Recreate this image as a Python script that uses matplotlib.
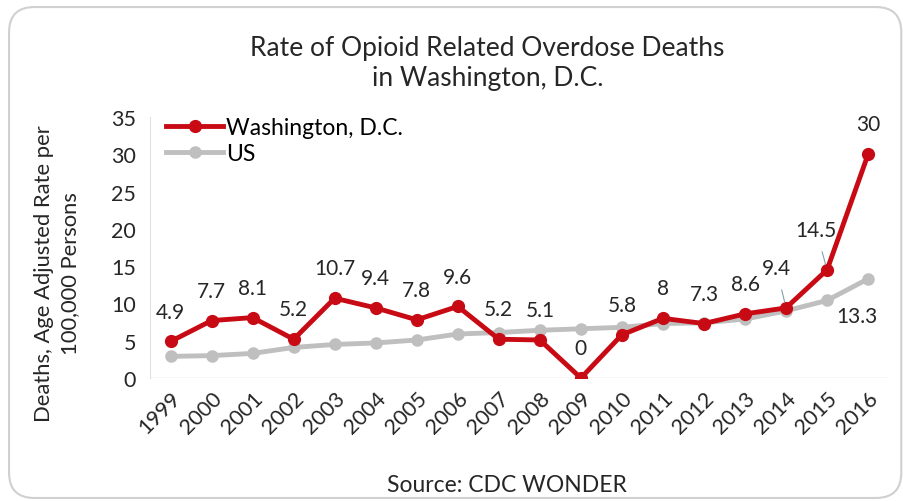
import matplotlib
matplotlib.use('Agg')

import matplotlib.pyplot as plt
from matplotlib.patches import FancyBboxPatch

years = [str(y) for y in range(1999, 2017)]
dc_rate = [4.9, 7.7, 8.1, 5.2, 10.7, 9.4, 7.8, 9.6, 5.2, 5.1, 0, 5.8, 8, 7.3, 8.6, 9.4, 14.5, 30]
us_rate = [2.9, 3.0, 3.3, 4.1, 4.5, 4.7, 5.1, 5.9, 6.1, 6.4, 6.6, 6.8, 7.3, 7.4, 7.9, 9.0, 10.4, 13.3]
dc_labels = ["4.9", "7.7", "8.1", "5.2", "10.7", "9.4", "7.8", "9.6", "5.2", "5.1",
             "0", "5.8", "8", "7.3", "8.6", "9.4", "14.5", "30"]

plt.rcParams['font.family'] = ['Lato', 'DejaVu Sans']

red = '#C80A14'
grey = '#BFBFBF'
txt = '#262626'
fs = 15

fig = plt.figure(figsize=(9.04, 5.02), dpi=100)
# rounded chart-area border
frame = FancyBboxPatch((0.01, 0.006), 0.987, 0.978, boxstyle="round,pad=0,rounding_size=0.028",
                       transform=fig.transFigure, facecolor='none', edgecolor='#D0D0D0',
                       linewidth=1.5, mutation_aspect=904 / 502, zorder=-1)
fig.patches.append(frame)

ax = fig.add_axes([0.166, 0.245, 0.817, 0.52])
ax.set_facecolor('none')
x = list(range(len(years)))

l_us, = ax.plot(x, us_rate, color=grey, lw=3.5, marker='o', ms=8, zorder=2)
l_dc, = ax.plot(x, dc_rate, color=red, lw=3.5, marker='o', ms=8.5, zorder=3)

# data labels for DC
for i, lab in enumerate(dc_labels):
    if i in (15, 16):
        continue
    ax.annotate(lab, (x[i], dc_rate[i]), xytext=(0, 21.5), textcoords='offset points',
                ha='center', va='center', fontsize=fs, color=txt)
# labels with leader lines
for i, dx in ((15, -7), (16, -8)):
    ax.annotate(dc_labels[i], (x[i], dc_rate[i]), xytext=(dx, 29), textcoords='offset points',
                ha='center', va='center', fontsize=fs, color=txt,
                arrowprops=dict(arrowstyle='-', color='#7F9FAF', lw=0.8, shrinkA=7, shrinkB=4))
ax.annotate("13.3", (x[-1], us_rate[-1]), xytext=(-8, -27), textcoords='offset points',
            ha='center', va='center', fontsize=fs, color=txt)

ax.set_xlim(-0.5, len(years) - 0.5)
ax.set_ylim(0, 35)
ax.set_yticks(range(0, 36, 5))
ax.set_xticks(x)
ax.set_xticklabels(years, rotation=45, ha='right', va='top', rotation_mode='anchor')
ax.tick_params(axis='both', length=0, labelsize=15.5, colors=txt)
ax.tick_params(axis='y', pad=10)
ax.tick_params(axis='x', pad=7)

for s in ('top', 'right', 'bottom'):
    ax.spines[s].set_visible(False)
ax.spines['left'].set_color('#E0E0E0')
ax.axhline(0, color='#D9D9D9', lw=1, zorder=1)

fig.text(0.063, 0.455, "Deaths, Age Adjusted Rate per\n100,000 Persons", rotation=90,
         ha='center', va='center', multialignment='center', fontsize=15.8, color=txt,
         linespacing=1.35)
fig.text(0.561, 0.033, "Source: CDC WONDER", ha='center', va='center', fontsize=16.5, color=txt)
fig.text(0.539, 0.873, "Rate of Opioid Related Overdose Deaths\nin Washington, D.C.",
         ha='center', va='center', multialignment='center', fontsize=19, color=txt,
         linespacing=1.25)

ax.legend([l_dc, l_us], ['Washington, D.C.', 'US'],
          loc='upper left', bbox_to_anchor=(0.0, 1.06), frameon=False, fontsize=16.5,
          handlelength=2.5, handletextpad=0.1, borderaxespad=0.3, labelspacing=0.2)

fig.savefig('out.png', dpi=100)
